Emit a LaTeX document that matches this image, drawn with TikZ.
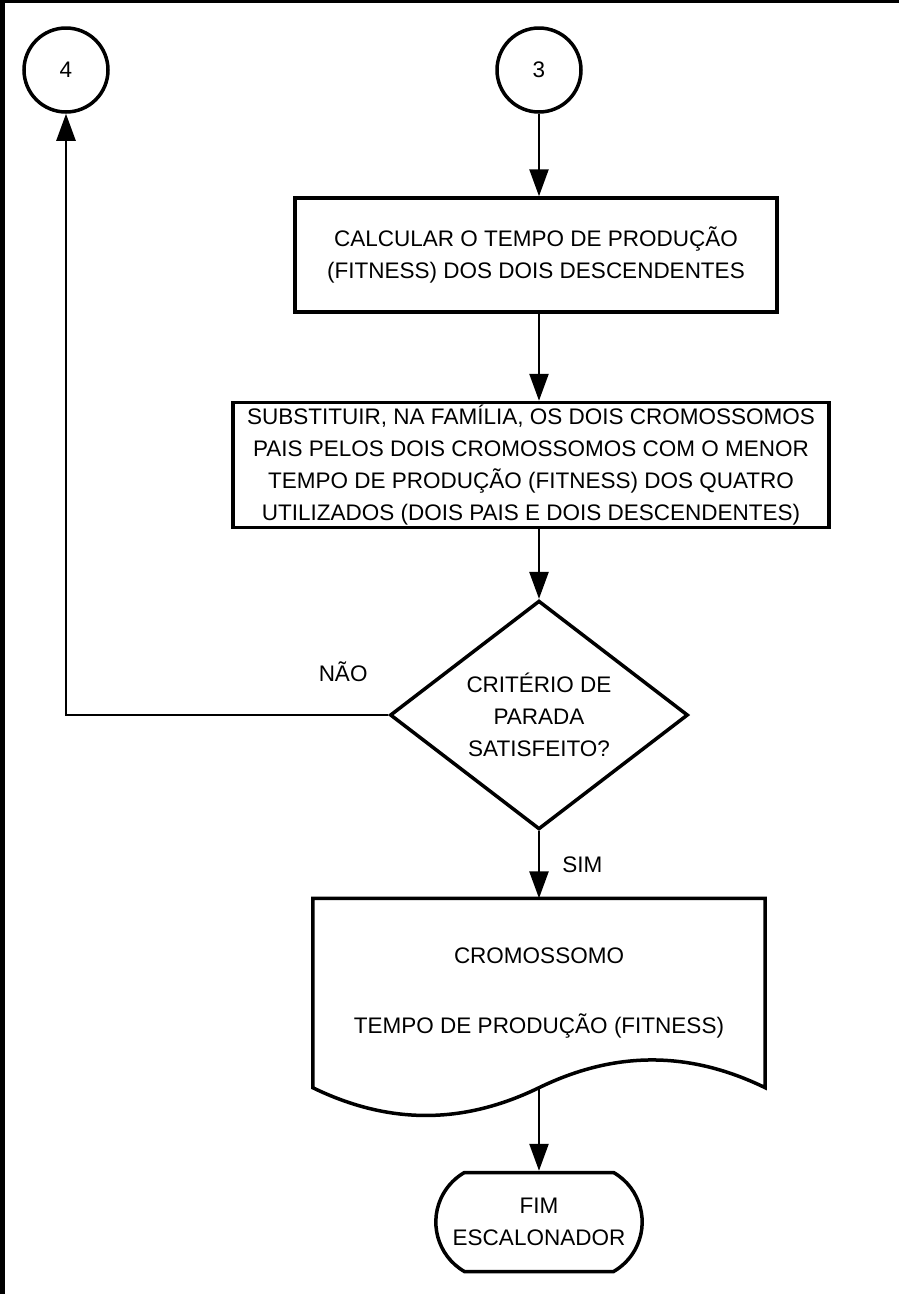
\documentclass[tikz,border=0pt]{standalone}
\usepackage{fontspec}
\setmainfont{Liberation Sans}
\usetikzlibrary{positioning}
\usetikzlibrary{arrows.meta}
\usetikzlibrary{shapes.geometric, shapes.misc}
\tikzstyle{every bloco} = [font=\fontsize{22.5}{32}\selectfont]
\tikzstyle{bloco} = [draw, line width=3.5pt, align=center, every bloco]
\tikzstyle{contorno} = [draw, line width=3.5pt]
\tikzstyle{processo} = [bloco, rectangle, inner sep=2pt]
\tikzstyle{decisao} = [bloco, diamond, inner sep=0pt, minimum width=298pt, minimum height=200pt]
\tikzstyle{conector} = [bloco, circle, minimum size=84pt]
\tikzstyle{terminal} = [bloco, rounded rectangle, rounded rectangle arc length=120, minimum width=213pt, minimum height=99pt]
\tikzstyle{documento} = [rectangle, align=center, minimum width=452pt, minimum height=189pt, every bloco]
\tikzstyle{rotulo} = [inner sep=0pt, every bloco]
\tikzstyle{seta} = [-{Triangle[length=27pt,width=19pt]}, line width=2.5pt]
\definecolor{borda}{RGB}{0,0,0}

\begin{document}
\begin{tikzpicture}[x=1pt, y=-1pt]
    \useasboundingbox (0,0) rectangle (899,1294);
    \fill[borda] (0,0) rectangle (899,3);
    \fill[borda] (0,0) rectangle (5,1294);

    \node[conector] (c4) at (66,70) {4};
    \node[conector] (c3) at (539,70) {3};
    \node[processo, minimum width=482pt, minimum height=114pt] (calcular) at (536,255)
        {CALCULAR O TEMPO DE PRODUÇÃO\\(FITNESS) DOS DOIS DESCENDENTES};
    \node[processo, minimum width=596pt, minimum height=125pt] (substituir) at (531,465)
        {SUBSTITUIR, NA FAMÍLIA, OS DOIS CROMOSSOMOS\\PAIS PELOS DOIS CROMOSSOMOS COM O MENOR\\TEMPO DE PRODUÇÃO (FITNESS) DOS QUATRO\\UTILIZADOS (DOIS PAIS E DOIS DESCENDENTES)};
    \node[decisao] (criterio) at (539,715) {CRITÉRIO DE\\PARADA\\SATISFEITO?};
    \node[documento] (resultado) at (539,993) {CROMOSSOMO\\[38pt]TEMPO DE PRODUÇÃO (FITNESS)};
    \draw[contorno] (resultado.south west) -- (resultado.north west) -- (resultado.north east) -- (resultado.south east)
        .. controls +(-76,-37) and +(76,-37) .. (resultado.south)
        .. controls +(-76,37) and +(76,37) .. (resultado.south west) -- cycle;
    \node[terminal] (fim) at (539,1222) {FIM\\ESCALONADOR};

    \draw[seta] (c3) -- (calcular.north -| c3);
    \draw[seta] (calcular.south -| c3) -- (substituir.north -| c3);
    \draw[seta] (substituir.south -| c3) -- (criterio.north);
    \draw[seta] (criterio.west) -| node[rotulo, above=32pt, pos=0.07] {NÃO} (c4.south);
    \draw[seta] (criterio.south) -- node[rotulo, right=22pt] {SIM} (resultado.north);
    \draw[seta] (resultado.south) -- (fim.north);
\end{tikzpicture}
\end{document}
